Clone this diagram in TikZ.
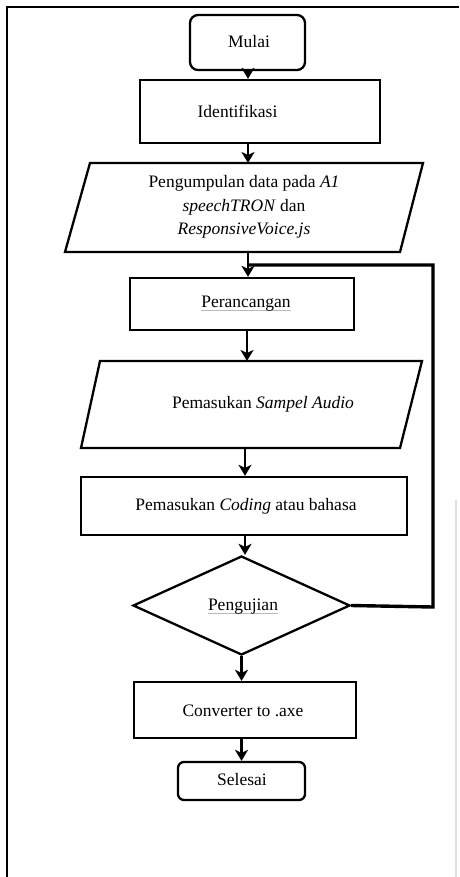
\documentclass[tikz,border=0pt]{standalone}
\usepackage{fontspec}
\setmainfont{Liberation Serif}
\usetikzlibrary{shapes.geometric,arrows.meta}
\newcommand\gul[1]{\setbox0\hbox{#1}\rlap{\color{gray!55}\rule[-3.5pt]{\wd0}{1.3pt}}\box0}
\begin{document}
\begin{tikzpicture}[x=1pt,y=-1pt,
  txt/.style={font=\fontsize{17.5}{23.5}\selectfont, inner sep=0pt, align=center},
  box/.style={draw, line width=2.3pt, inner sep=0pt},
  term/.style={box, rounded corners=8pt},
  arr/.style={-{Stealth[length=11pt,width=13pt,inset=3pt]}, line width=2.8pt},
  fb/.style={line width=3.4pt}]
\useasboundingbox (0,0) rectangle (459,877);
% frame
\draw[line width=2.8pt] (7,877) -- (7,7) -- (459,7);
\draw[gray!25, line width=2.5pt] (456,500) -- (456,877);
% shapes
\node[term, minimum width=115pt, minimum height=55pt] (mulai) at (247.5,42.5) {};
\node[txt] (mulaiT) at (249,42) {Mulai};
\node[box, minimum width=240pt, minimum height=63pt] (ident) at (260,111.5) {};
\node[txt] (identT) at (237.5,111) {Identifikasi};
\draw[line width=2.3pt] (90,163) -- (423,163) -- (400,252) -- (65,252) -- cycle;
\coordinate (p1t) at (248,163);
\coordinate (p1b) at (248,252);
\node[txt] (p1T) at (244,207) {Pengumpulan data pada \textit{A1}\\ \textit{speechTRON} dan\\ \textit{ResponsiveVoice.js}};
\node[box, minimum width=224pt, minimum height=52pt] (peran) at (242,304) {};
\node[txt] (peranT) at (246,304) {\gul{Perancangan}};
\draw[line width=2.3pt] (100,361) -- (422,361) -- (400,448) -- (81,448) -- cycle;
\coordinate (p2t) at (247,361);
\coordinate (p2b) at (245,448);
\node[txt] (p2T) at (263,404) {Pemasukan \textit{Sampel Audio}};
\node[box, minimum width=326pt, minimum height=58pt] (coding) at (244,506) {};
\node[txt] (codingT) at (246,506) {Pemasukan \textit{Coding} atau bahasa};
\node[box, diamond, minimum width=217pt, minimum height=99pt] (uji) at (241.5,605.5) {};
\node[txt] (ujiT) at (243,607) {\gul{Pengujian}};
\node[box, minimum width=222pt, minimum height=56pt] (conv) at (245,710) {};
\node[txt] (convT) at (243,711) {Converter to .axe};
\node[term, minimum width=127pt, minimum height=38pt, rounded corners=6pt] (selesai) at (241.5,781) {};
\node[txt] (selesaiT) at (242,780) {Selesai};
\coordinate (fbA) at (433,607);
\coordinate (fbB) at (433,265);
\coordinate (fbC) at (248,265);
% connectors
\draw[arr] (mulai.south -| p1t) -- (ident.north -| p1t);
\draw[arr] (ident.south -| p1t) -- (p1t);
\draw[arr] (p1b) -- (peran.north -| p1b);
\draw[arr] (peran.south -| p2t) -- (p2t);
\draw[arr] (p2b) -- (coding.north -| p2b);
\draw[arr] (coding.south -| p2b) -- (uji.north -| p2b);
\draw[arr] (uji.south) -- (conv.north -| uji.south);
\draw[arr] (conv.south -| uji.south) -- (selesai.north -| uji.south);
\draw[fb] (uji.east) -- (fbA) -- (fbB) -- (fbC);
\end{tikzpicture}
\end{document}
